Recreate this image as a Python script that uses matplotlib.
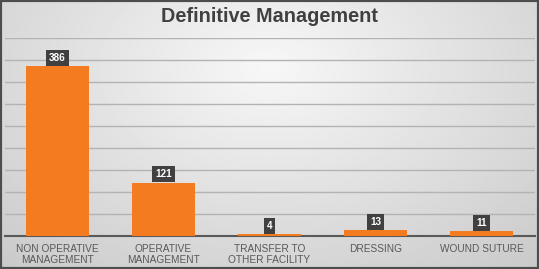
import numpy as np
import matplotlib
matplotlib.use('Agg')
import matplotlib.pyplot as plt

plt.rcParams['font.family'] = ['Liberation Sans', 'DejaVu Sans']

categories = ['NON OPERATIVE\nMANAGEMENT', 'OPERATIVE\nMANAGEMENT', 'TRANSFER TO\nOTHER FACILITY',
              'DRESSING', 'WOUND SUTURE']
values = [386, 121, 4, 13, 11]

W, H = 539, 269
fig = plt.figure(figsize=(W / 100, H / 100), dpi=100)

# fond en dégradé radial gris
bg = fig.add_axes([0, 0, 1, 1], zorder=0)
yy, xx = np.mgrid[0:1:200j, 0:1:400j]
r = np.sqrt(((xx - 0.5) / 0.75) ** 2 + ((yy - 0.25) / 1.0) ** 2)
r = np.clip(r / r.max(), 0, 1)
img = 0.97 - 0.18 * r
bg.imshow(img, cmap='gray', vmin=0, vmax=1, aspect='auto', extent=[0, 1, 1, 0])
bg.set_axis_off()
fig.patches.append(plt.Rectangle((0, 0), 1, 1, transform=fig.transFigure, fill=False,
                                 edgecolor='#4d4d4d', linewidth=3, zorder=10))

ax = fig.add_axes([4.5 / W, (H - 236) / H, 530 / W, 198 / H], zorder=1)
ax.patch.set_alpha(0)
x = np.arange(len(values))
ax.bar(x, values, width=0.6, color='#f47b20', zorder=3)
ax.set_xlim(-0.5, len(values) - 0.5)
ax.set_ylim(0, 450)
ax.set_yticks(np.arange(50, 451, 50))
ax.yaxis.grid(True, color='#b3b3b3', linewidth=1)
ax.set_axisbelow(True)
ax.tick_params(axis='y', left=False, labelleft=False)
ax.tick_params(axis='x', length=0, pad=6)
ax.set_xticks(x)
ax.set_xticklabels(categories, fontsize=7.3, color='#595959', linespacing=1.05)
for s in ['left', 'right', 'top']:
    ax.spines[s].set_visible(False)
ax.spines['bottom'].set_color('#595959')
ax.spines['bottom'].set_linewidth(1.5)

for xi, v in zip(x, values):
    ax.annotate(str(v), (xi, v), xytext=(0, 2.5), textcoords='offset points',
                ha='center', va='bottom', fontsize=7.2, fontweight='bold', color='white',
                bbox=dict(boxstyle='square,pad=0.3', facecolor='#404040', edgecolor='none'),
                zorder=5)

fig.text(0.5, 1 - 17 / H, 'Definitive Management', ha='center', va='center',
         fontsize=14.3, fontweight='bold', color='#404040')

fig.savefig('out.png', dpi=100)
